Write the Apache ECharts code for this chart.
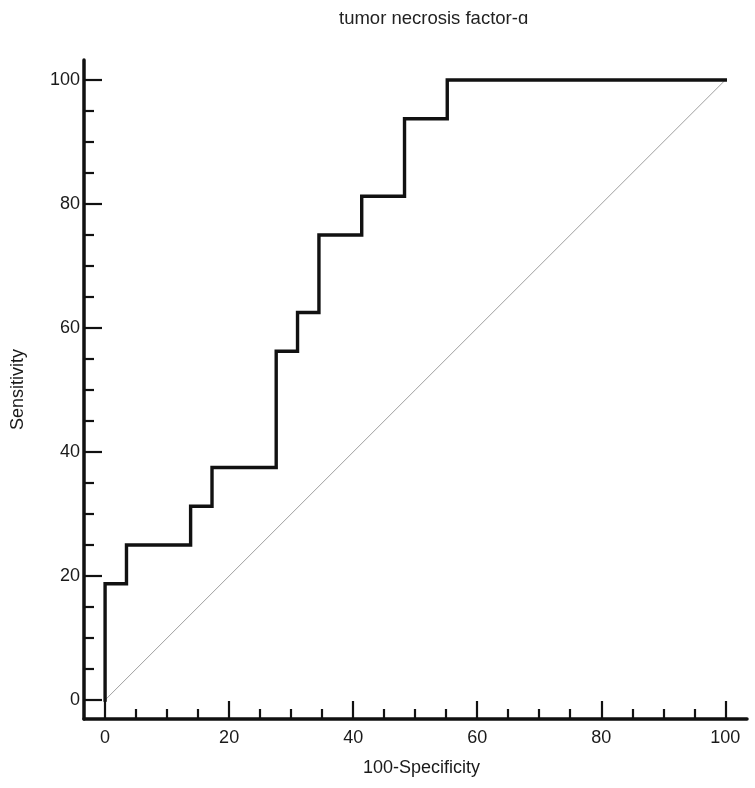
<!DOCTYPE html>
<html>
<head>
<meta charset="utf-8">
<script src="https://cdn.jsdelivr.net/npm/echarts@6/dist/echarts.min.js"></script>
<style>
html,body{margin:0;padding:0;background:#fff;}
#chart{width:755px;height:788px;}
</style>
</head>
<body>
<div id="chart"></div>
<script>
// ROC points (100-Specificity, Sensitivity)
var fpr = [0, 0, 3.45, 13.79, 17.24, 27.59, 31.03, 34.48, 41.38, 48.28, 55.17, 100];
var tpr = [0, 18.75, 25, 31.25, 37.5, 56.25, 62.5, 75, 81.25, 93.75, 100, 100];
var diagX = [0, 100];
var diagY = [0, 100];
var majorTicks = [0, 20, 40, 60, 80, 100];
var minorTicks = [5, 10, 15, 25, 30, 35, 45, 50, 55, 65, 70, 75, 85, 90, 95];

var rocData = fpr.map(function (x, i) { return [x, tpr[i]]; });
var diagData = diagX.map(function (x, i) { return [x, diagY[i]]; });

var font = 'Liberation Sans, Arial, sans-serif';
var chart = echarts.init(document.getElementById('chart'));

function xAx(main) {
  return {
    type: 'value', position: 'bottom', min: -3.4, max: 103.5,
    splitLine: { show: false },
    axisLine: { show: main, onZero: false, lineStyle: { color: '#111', width: 3.5 } },
    axisTick: { show: true, inside: true, length: main ? 18 : 10,
      customValues: main ? majorTicks : minorTicks,
      lineStyle: { color: '#111', width: 2.2 } },
    axisLabel: { show: main, customValues: majorTicks, margin: 10,
      color: '#1a1a1a', fontSize: 18, fontFamily: font },
    name: main ? '100-Specificity' : '', nameLocation: 'middle', nameGap: 40,
    nameTextStyle: { color: '#1a1a1a', fontSize: 18, fontFamily: font, padding: [0, 0, 0, 12] }
  };
}
function yAx(main) {
  return {
    type: 'value', position: 'left', min: -3.06, max: 103.23,
    splitLine: { show: false },
    axisLine: { show: main, onZero: false, lineStyle: { color: '#111', width: 3.5 } },
    axisTick: { show: true, inside: true, length: main ? 18 : 10,
      customValues: main ? majorTicks : minorTicks,
      lineStyle: { color: '#111', width: 2.2 } },
    axisLabel: { show: main, customValues: majorTicks, margin: 4,
      color: '#1a1a1a', fontSize: 18, fontFamily: font },
    name: main ? 'Sensitivity' : '', nameLocation: 'middle', nameGap: 57,
    nameTextStyle: { color: '#1a1a1a', fontSize: 18, fontFamily: font }
  };
}

chart.setOption({
  backgroundColor: '#fff',
  animation: false,
  title: {
    text: 'tumor necrosis factor-ɑ',
    left: 334, top: 4,
    textStyle: { color: '#222', fontSize: 18.5, fontWeight: 'normal', fontFamily: font }
  },
  grid: { left: 84, right: 8, top: 60, bottom: 69, containLabel: false },
  xAxis: [xAx(true), xAx(false)],
  yAxis: [yAx(true), yAx(false)],
  series: [
    {
      type: 'line', data: diagData, xAxisIndex: 0, yAxisIndex: 0,
      showSymbol: false, symbol: 'none',
      lineStyle: { color: '#a0a0a0', width: 1 }
    },
    {
      type: 'line', data: rocData, step: 'end', xAxisIndex: 0, yAxisIndex: 0,
      showSymbol: false, symbol: 'none',
      lineStyle: { color: '#111', width: 3.4, join: 'miter', cap: 'square' }
    }
  ]
});
</script>
</body>
</html>
